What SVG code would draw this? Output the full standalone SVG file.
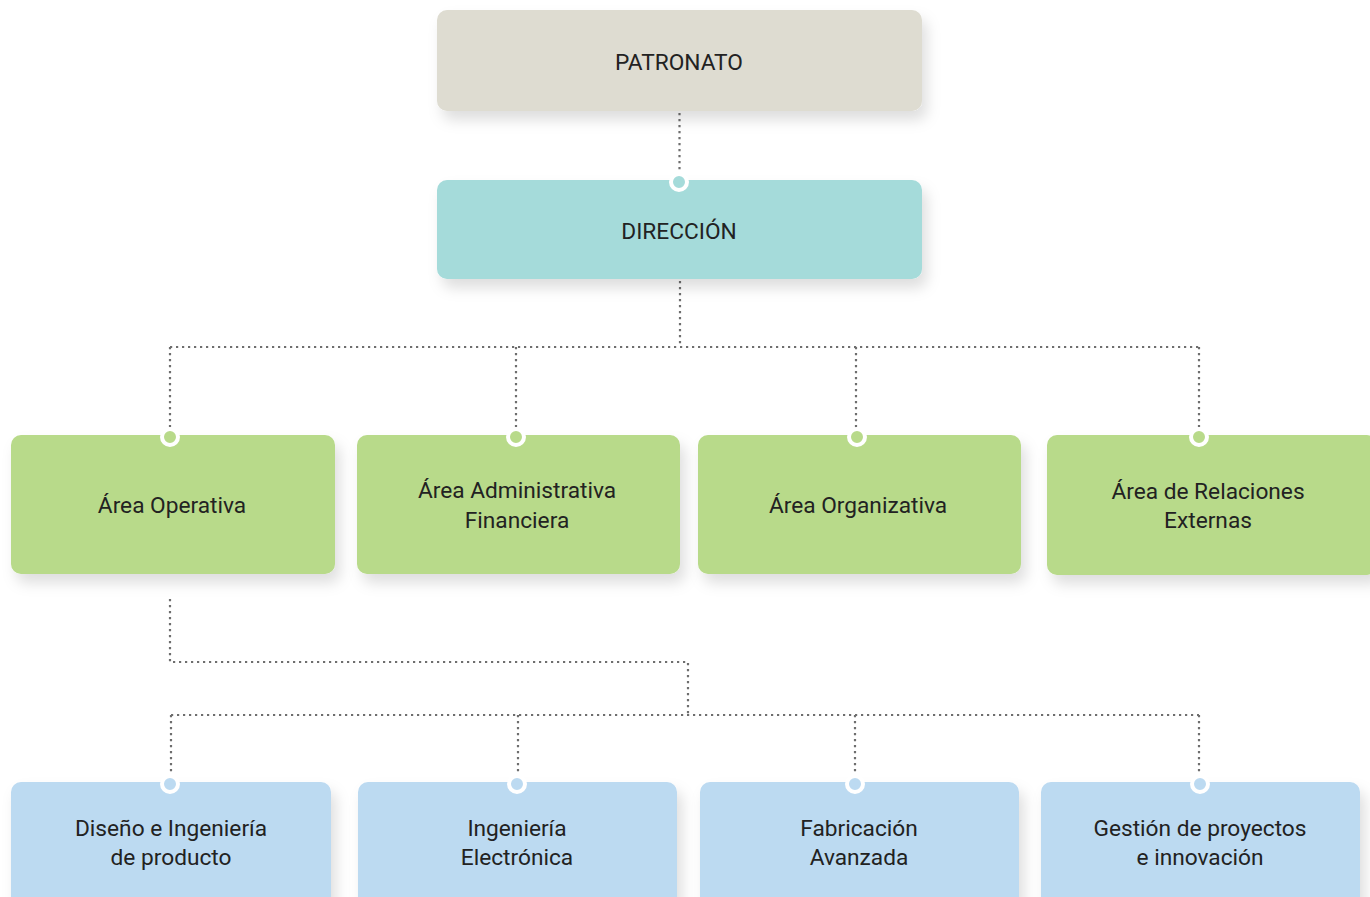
<svg xmlns="http://www.w3.org/2000/svg" width="1370" height="897" viewBox="0 0 1370 897">
<defs>
<filter id="sh" x="-10%" y="-20%" width="130%" height="160%">
<feDropShadow dx="5" dy="9" stdDeviation="7" flood-color="#000" flood-opacity="0.13"/>
</filter>
<style>
.lbl{font-family:Roboto,"Open Sans","Liberation Sans",sans-serif;font-size:22.7px;fill:#222;text-anchor:middle}
.con{fill:none;stroke:#6e6e6e;stroke-width:2.2;stroke-dasharray:2.2 3.8;stroke-linecap:butt}
.ring{stroke:#fff;stroke-width:4}
.beige{fill:#dedcd1}
.teal{fill:#a5dbda}
.green{fill:#b8da8a}
.blue{fill:#bcdaf1}
</style>
</defs>
<rect width="1370" height="897" fill="#fff"/>
<g id="connectors">
<path class="con" d="M679.5 113V176"/>
<path class="con" d="M680 281V347"/>
<path class="con" d="M170 347H1199"/>
<path class="con" d="M170 347V430M516 347V430M856 347V430M1199 347V430"/>
<path class="con" d="M170 599V662H688V715"/>
<path class="con" d="M171 715H1199"/>
<path class="con" d="M171 715V777M518 715V777M855 715V777M1199 715V777"/>
</g>
<g id="patronato">
<rect class="beige" x="437" y="10" width="485" height="101" rx="10" filter="url(#sh)"/>
<text class="lbl" x="679" y="70">PATRONATO</text>
</g>
<g id="direccion">
<rect class="teal" x="437" y="180" width="485" height="99" rx="10" filter="url(#sh)"/>
<circle class="teal ring" cx="679" cy="182" r="8"/>
<text class="lbl" x="679" y="239">DIRECCIÓN</text>
</g>
<g id="area-operativa">
<rect class="green" x="11" y="435" width="324" height="139" rx="10" filter="url(#sh)"/>
<circle class="green ring" cx="170" cy="437" r="8"/>
<text class="lbl" x="172" y="513">Área Operativa</text>
</g>
<g id="area-administrativa">
<rect class="green" x="357" y="435" width="323" height="139" rx="10" filter="url(#sh)"/>
<circle class="green ring" cx="516" cy="437" r="8"/>
<text class="lbl" x="517" y="498">Área Administrativa</text>
<text class="lbl" x="517" y="528">Financiera</text>
</g>
<g id="area-organizativa">
<rect class="green" x="698" y="435" width="323" height="139" rx="10" filter="url(#sh)"/>
<circle class="green ring" cx="857" cy="437" r="8"/>
<text class="lbl" x="858" y="513">Área Organizativa</text>
</g>
<g id="area-relaciones">
<rect class="green" x="1047" y="435" width="330" height="140" rx="10" filter="url(#sh)"/>
<circle class="green ring" cx="1199" cy="437" r="8"/>
<text class="lbl" x="1208" y="499">Área de Relaciones</text>
<text class="lbl" x="1208" y="528">Externas</text>
</g>
<g id="diseno">
<rect class="blue" x="11" y="782" width="320" height="130" rx="10" filter="url(#sh)"/>
<circle class="blue ring" cx="170" cy="784" r="8"/>
<text class="lbl" x="171" y="836">Diseño e Ingeniería</text>
<text class="lbl" x="171" y="865">de producto</text>
</g>
<g id="ingenieria">
<rect class="blue" x="358" y="782" width="319" height="130" rx="10" filter="url(#sh)"/>
<circle class="blue ring" cx="517" cy="784" r="8"/>
<text class="lbl" x="517" y="836">Ingeniería</text>
<text class="lbl" x="517" y="865">Electrónica</text>
</g>
<g id="fabricacion">
<rect class="blue" x="700" y="782" width="319" height="130" rx="10" filter="url(#sh)"/>
<circle class="blue ring" cx="855" cy="784" r="8"/>
<text class="lbl" x="859" y="836">Fabricación</text>
<text class="lbl" x="859" y="865">Avanzada</text>
</g>
<g id="gestion">
<rect class="blue" x="1041" y="782" width="319" height="130" rx="10" filter="url(#sh)"/>
<circle class="blue ring" cx="1200" cy="784" r="8"/>
<text class="lbl" x="1200" y="836">Gestión de proyectos</text>
<text class="lbl" x="1200" y="865">e innovación</text>
</g>
</svg>
